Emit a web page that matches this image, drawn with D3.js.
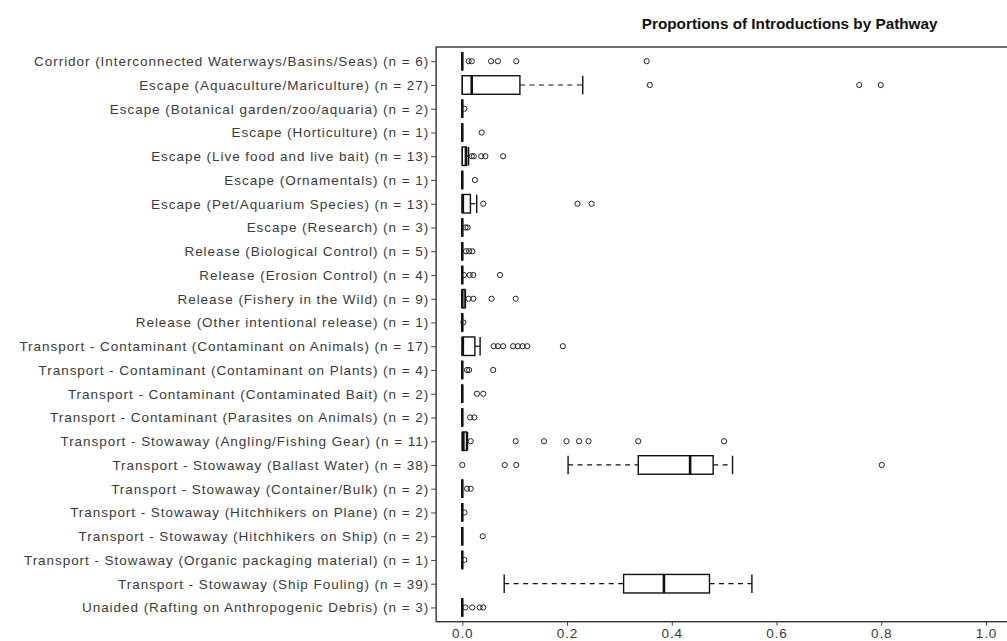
<!DOCTYPE html>
<html>
<head>
<meta charset="utf-8">
<script src="https://cdn.jsdelivr.net/npm/d3@7"></script>
<style>
  html, body { margin: 0; padding: 0; background: #fff; }
  svg { display: block; }
</style>
</head>
<body>
<svg id="chart" width="1007" height="641"></svg>
<script>
// Pathway categories and the number of records in each
const pathways = [
  "Corridor (Interconnected Waterways/Basins/Seas)",
  "Escape (Aquaculture/Mariculture)",
  "Escape (Botanical garden/zoo/aquaria)",
  "Escape (Horticulture)",
  "Escape (Live food and live bait)",
  "Escape (Ornamentals)",
  "Escape (Pet/Aquarium Species)",
  "Escape (Research)",
  "Release (Biological Control)",
  "Release (Erosion Control)",
  "Release (Fishery in the Wild)",
  "Release (Other intentional release)",
  "Transport - Contaminant (Contaminant on Animals)",
  "Transport - Contaminant (Contaminant on Plants)",
  "Transport - Contaminant (Contaminated Bait)",
  "Transport - Contaminant (Parasites on Animals)",
  "Transport - Stowaway (Angling/Fishing Gear)",
  "Transport - Stowaway (Ballast Water)",
  "Transport - Stowaway (Container/Bulk)",
  "Transport - Stowaway (Hitchhikers on Plane)",
  "Transport - Stowaway (Hitchhikers on Ship)",
  "Transport - Stowaway (Organic packaging material)",
  "Transport - Stowaway (Ship Fouling)",
  "Unaided (Rafting on Anthropogenic Debris)"
];
const nObs = [6, 27, 2, 1, 13, 1, 13, 3, 5, 4, 9, 1, 17, 4, 2, 2, 11, 38, 2, 2, 2, 1, 39, 3];

// Five-number boxplot summaries (proportion of introductions)
const whiskerLow = [0, 0, 0, 0, 0, 0, 0, 0, 0, 0, 0, 0, 0, 0, 0, 0, 0, 0.202, 0, 0, 0, 0, 0.080, 0];
const quart1     = [0, 0, 0, 0, 0, 0, 0, 0, 0, 0, 0, 0, 0, 0, 0, 0, 0, 0.336, 0, 0, 0, 0, 0.308, 0];
const medians    = [0, 0.018, 0, 0, 0.007, 0, 0.001, 0, 0, 0, 0, 0, 0.001, 0, 0, 0, 0.002, 0.435, 0, 0, 0, 0, 0.385, 0];
const quart3     = [0, 0.110, 0, 0, 0.008, 0, 0.0155, 0, 0, 0, 0.005, 0, 0.024, 0, 0, 0, 0.008, 0.479, 0, 0, 0, 0, 0.472, 0];
const whiskerHigh= [0, 0.230, 0, 0, 0.012, 0, 0.0275, 0, 0, 0, 0.006, 0, 0.034, 0, 0, 0, 0.010, 0.516, 0, 0, 0, 0, 0.553, 0];
const outliers = [
  [0.012, 0.018, 0.055, 0.068, 0.103, 0.352],
  [0.358, 0.758, 0.799],
  [0.004],
  [0.037],
  [0.018, 0.022, 0.036, 0.044, 0.078],
  [0.024],
  [0.040, 0.220, 0.247],
  [0.006, 0.010],
  [0.007, 0.013, 0.019],
  [0.003, 0.014, 0.021, 0.072],
  [0.012, 0.021, 0.056, 0.102],
  [0.002],
  [0.060, 0.068, 0.078, 0.097, 0.106, 0.115, 0.124, 0.192],
  [0.009, 0.013, 0.059],
  [0.028, 0.040],
  [0.015, 0.023],
  [0.016, 0.102, 0.156, 0.199, 0.223, 0.241, 0.336, 0.500],
  [0.0, 0.081, 0.103, 0.801],
  [0.009, 0.016],
  [0.004],
  [0.039],
  [0.004],
  [],
  [0.006, 0.019, 0.033, 0.040]
];
const xTicks = [0, 0.2, 0.4, 0.6, 0.8, 1.0];
const chartTitle = "Proportions of Introductions by Pathway";

const labels = pathways.map((p, i) => `${p} (n = ${nObs[i]})`);
const rows = labels.map((label, i) => ({
  label,
  lo: whiskerLow[i], q1: quart1[i], med: medians[i], q3: quart3[i], hi: whiskerHigh[i],
  out: outliers[i]
}));

const svg = d3.select("#chart");
const frame = { top: 47, bottom: 621.7 };

const x = d3.scaleLinear().domain([0, 1]).range([462.3, 986]);
const y = d3.scalePoint().domain(labels).range([frame.top, frame.bottom]).padding(0.6);
const boxH = y.step() * 0.78;

const font = "'Liberation Sans', Arial, Helvetica, sans-serif";

// Title, centred over the full plotting region
svg.append("text")
  .attr("x", (x(-0.05) + x(1.3)) / 2)
  .attr("y", 29)
  .attr("text-anchor", "middle")
  .attr("font-family", font)
  .attr("font-weight", "bold")
  .attr("font-size", 15.3)
  .attr("fill", "#111")
  .text(chartTitle);

// Plot frame
const fx0 = x(-0.05), fx1 = x(1.3);
svg.append("rect")
  .attr("x", fx0).attr("y", frame.top)
  .attr("width", fx1 - fx0).attr("height", frame.bottom - frame.top)
  .attr("fill", "none").attr("stroke", "#333").attr("stroke-width", 1.4);

// Axes
const yAxis = svg.append("g")
  .attr("transform", `translate(${fx0},0)`)
  .call(d3.axisLeft(y).tickSize(5).tickPadding(2));
yAxis.select(".domain").remove();
yAxis.selectAll("line").attr("stroke", "#444");
yAxis.selectAll("text")
  .attr("font-family", font).attr("font-size", 13.5)
  .attr("letter-spacing", "0.95px").attr("fill", "#3a3a3a");

const xAxis = svg.append("g")
  .attr("transform", `translate(0,${frame.bottom})`)
  .call(d3.axisBottom(x).tickValues(xTicks).tickFormat(d3.format(".1f")).tickSize(4).tickPadding(3));
xAxis.select(".domain").remove();
xAxis.selectAll("line").attr("stroke", "#444");
xAxis.selectAll("text")
  .attr("font-family", font).attr("font-size", 13.5)
  .attr("letter-spacing", "0.9px").attr("fill", "#3a3a3a");

// Boxplots
const g = svg.append("g").attr("stroke", "#111").attr("fill", "none");
const bp = g.selectAll("g.bp").data(rows).join("g").attr("class", "bp")
  .attr("transform", d => `translate(0,${y(d.label)})`);

// whiskers
bp.append("line")
  .attr("x1", d => x(d.lo)).attr("x2", d => x(d.q1))
  .attr("stroke-width", 1.2).attr("stroke-dasharray", "5,4.5");
bp.append("line")
  .attr("x1", d => x(d.q3)).attr("x2", d => x(d.hi))
  .attr("stroke-width", 1.2).attr("stroke-dasharray", "5,4.5");
// staples
bp.append("line")
  .attr("x1", d => x(d.lo)).attr("x2", d => x(d.lo))
  .attr("y1", -boxH / 2).attr("y2", boxH / 2).attr("stroke-width", 1.4);
bp.append("line")
  .attr("x1", d => x(d.hi)).attr("x2", d => x(d.hi))
  .attr("y1", -boxH / 2).attr("y2", boxH / 2).attr("stroke-width", 1.4);
// box
bp.append("rect")
  .attr("x", d => x(d.q1)).attr("width", d => x(d.q3) - x(d.q1))
  .attr("y", -boxH / 2).attr("height", boxH)
  .attr("fill", "#fff").attr("stroke-width", 1.4);
// median
bp.append("line")
  .attr("x1", d => x(d.med)).attr("x2", d => x(d.med))
  .attr("y1", -boxH / 2).attr("y2", boxH / 2).attr("stroke-width", 2.6);
// outliers
bp.selectAll("circle").data(d => d.out).join("circle")
  .attr("cx", v => x(v)).attr("cy", 0).attr("r", 2.6)
  .attr("stroke", "#222").attr("stroke-width", 1);
</script>
</body>
</html>
